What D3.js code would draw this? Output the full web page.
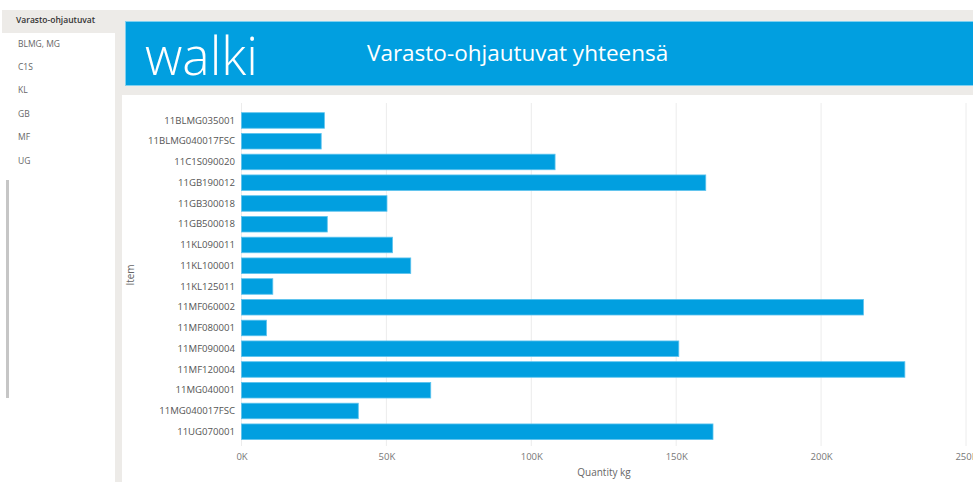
<!DOCTYPE html>
<html>
<head>
<meta charset="utf-8">
<script src="https://cdn.jsdelivr.net/npm/d3@7"></script>
<style>
  html, body { margin: 0; padding: 0; background: #fff; }
  svg { display: block; font-family: "Open Sans", "Noto Sans", sans-serif; }
</style>
</head>
<body>
<div id="chart"></div>
<script>
// pages in the left nav
var pages = ["Varasto-ohjautuvat", "BLMG, MG", "C1S", "KL", "GB", "MF", "UG"];

// items and quantity (kg)
var items = ["11BLMG035001", "11BLMG040017FSC", "11C1S090020", "11GB190012", "11GB300018",
  "11GB500018", "11KL090011", "11KL100001", "11KL125011", "11MF060002", "11MF080001",
  "11MF090004", "11MF120004", "11MG040001", "11MG040017FSC", "11UG070001"];
var quantity = [28600, 27500, 108200, 160200, 50200, 29600, 52100, 58400, 10800,
  214600, 8600, 150900, 228900, 65300, 40300, 162700];

var xTicks = [0, 50000, 100000, 150000, 200000, 250000];

var W = 973, H = 482;
var blue = "#019fe0";
var font = '"Open Sans", "Noto Sans", sans-serif';

var svg = d3.select("#chart").append("svg")
  .attr("width", W).attr("height", H);

// background panels
svg.append("rect").attr("x", 0).attr("y", 0).attr("width", W).attr("height", H).attr("fill", "#fff");
svg.append("rect").attr("x", 115).attr("y", 10).attr("width", W - 115).attr("height", H - 10).attr("fill", "#edebe8");
svg.append("rect").attr("x", 122).attr("y", 95).attr("width", W - 122).attr("height", H - 95).attr("fill", "#fff");

// left nav
svg.append("rect").attr("x", 2).attr("y", 10).attr("width", 113).attr("height", 23).attr("fill", "#edebe8");
svg.append("rect").attr("x", 6).attr("y", 180).attr("width", 3).attr("height", 218).attr("fill", "#c6c6c6");
svg.append("g").selectAll("text").data(pages).join("text")
  .attr("x", function(d, i) { return i === 0 ? 16 : 18; })
  .attr("y", function(d, i) { return 21 + i * 23.4; })
  .attr("dominant-baseline", "middle")
  .style("font-size", "8.5px")
  .style("font-weight", function(d, i) { return i === 0 ? 600 : 400; })
  .attr("fill", function(d, i) { return i === 0 ? "#333" : "#666"; })
  .text(function(d) { return d; });

// header banner
svg.append("rect").attr("x", 125.5).attr("y", 21.5).attr("width", W - 125).attr("height", 64)
  .attr("fill", blue).attr("stroke", "#7fd0f0").attr("stroke-width", 1);
svg.append("text")
  .attr("x", 145).attr("y", 75)
  .attr("textLength", 113).attr("lengthAdjust", "spacingAndGlyphs")
  .style("font-size", "54px").style("font-weight", 300)
  .attr("fill", "#fff")
  .text("walki");
svg.append("text")
  .attr("x", 367).attr("y", 61)
  .style("font-size", "22.5px")
  .attr("fill", "#fff")
  .text("Varasto-ohjautuvat yhteensä");

// chart
var x = d3.scaleLinear().domain([0, 250000]).range([241.5, 966]);
var y = d3.scaleBand().domain(items).range([107.5, 444.7]).padding(0.25);

svg.append("g").selectAll("line").data(xTicks).join("line")
  .attr("x1", function(d) { return x(d); }).attr("x2", function(d) { return x(d); })
  .attr("y1", 103).attr("y2", 446)
  .attr("stroke", "#ececec").attr("stroke-width", 1);

svg.append("g").selectAll("rect").data(items).join("rect")
  .attr("x", x(0))
  .attr("y", function(d) { return y(d); })
  .attr("width", function(d, i) { return x(quantity[i]) - x(0); })
  .attr("height", y.bandwidth())
  .attr("fill", blue)
  .attr("stroke", "#5cc3ee").attr("stroke-width", 0.8);

var xAxis = svg.append("g")
  .attr("transform", "translate(0,457)")
  .call(d3.axisBottom(x).tickValues(xTicks).tickSize(0).tickPadding(0)
    .tickFormat(function(d) { return (d / 1000) + "K"; }));
xAxis.attr("font-family", font).attr("font-size", 9.5);
xAxis.select(".domain").remove();
xAxis.selectAll("text").attr("dy", "0.35em").attr("fill", "#777");

var yAxis = svg.append("g")
  .attr("transform", "translate(235,0)")
  .call(d3.axisLeft(y).tickSize(0).tickPadding(0));
yAxis.attr("font-family", font).attr("font-size", 9.6);
yAxis.select(".domain").remove();
yAxis.selectAll("text").attr("fill", "#555");

svg.append("text")
  .attr("x", 604).attr("y", 473)
  .attr("text-anchor", "middle").attr("dominant-baseline", "middle")
  .style("font-size", "10px").attr("fill", "#666")
  .text("Quantity kg");

svg.append("text")
  .attr("transform", "translate(131,275) rotate(-90)")
  .attr("text-anchor", "middle").attr("dominant-baseline", "middle")
  .style("font-size", "10px").attr("fill", "#666")
  .text("Item");
</script>
</body>
</html>
